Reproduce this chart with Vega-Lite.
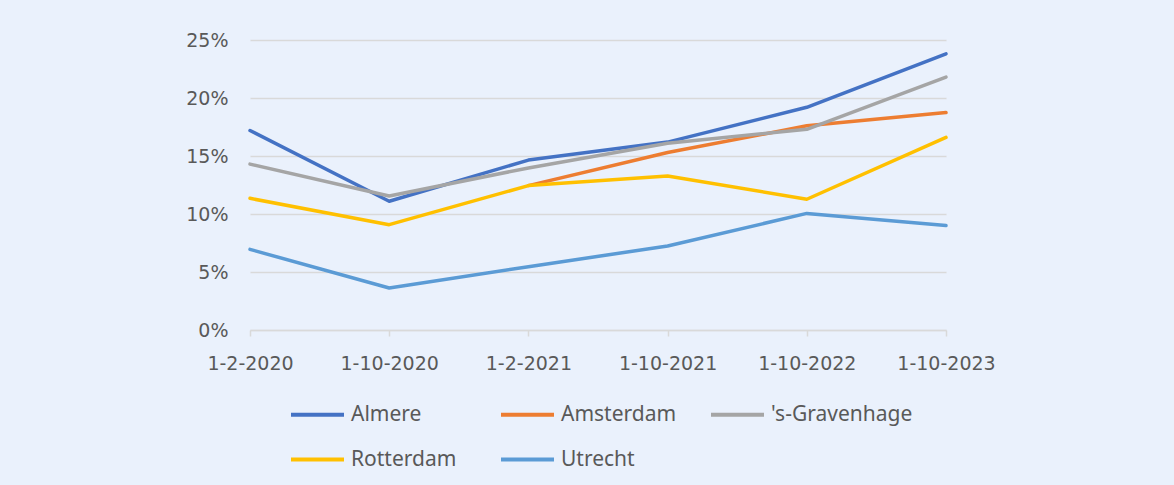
{
  "$schema": "https://vega.github.io/schema/vega-lite/v6.json",
  "width": 696,
  "height": 290,
  "autosize": {"type": "none"},
  "padding": {"left": 250, "top": 40, "right": 228, "bottom": 155},
  "background": "#EAF1FC",
  "config": {
    "view": {"stroke": null},
    "font": "Noto Sans",
    "axis": {"labelColor": "#595959", "labelFont": "DejaVu Sans", "labelFontSize": 19}
  },
  "data": {
    "values": [
      {"datum": "1-2-2020", "stad": "Almere", "waarde": 0.172},
      {"datum": "1-10-2020", "stad": "Almere", "waarde": 0.111},
      {"datum": "1-2-2021", "stad": "Almere", "waarde": 0.1465},
      {"datum": "1-10-2021", "stad": "Almere", "waarde": 0.162},
      {"datum": "1-10-2022", "stad": "Almere", "waarde": 0.192},
      {"datum": "1-10-2023", "stad": "Almere", "waarde": 0.238},
      {"datum": "1-2-2021", "stad": "Amsterdam", "waarde": 0.1245},
      {"datum": "1-10-2021", "stad": "Amsterdam", "waarde": 0.153},
      {"datum": "1-10-2022", "stad": "Amsterdam", "waarde": 0.176},
      {"datum": "1-10-2023", "stad": "Amsterdam", "waarde": 0.1875},
      {"datum": "1-2-2020", "stad": "'s-Gravenhage", "waarde": 0.143},
      {"datum": "1-10-2020", "stad": "'s-Gravenhage", "waarde": 0.1155},
      {"datum": "1-2-2021", "stad": "'s-Gravenhage", "waarde": 0.1397},
      {"datum": "1-10-2021", "stad": "'s-Gravenhage", "waarde": 0.161},
      {"datum": "1-10-2022", "stad": "'s-Gravenhage", "waarde": 0.173},
      {"datum": "1-10-2023", "stad": "'s-Gravenhage", "waarde": 0.218},
      {"datum": "1-2-2020", "stad": "Rotterdam", "waarde": 0.1135},
      {"datum": "1-10-2020", "stad": "Rotterdam", "waarde": 0.0908},
      {"datum": "1-2-2021", "stad": "Rotterdam", "waarde": 0.1245},
      {"datum": "1-10-2021", "stad": "Rotterdam", "waarde": 0.1328},
      {"datum": "1-10-2022", "stad": "Rotterdam", "waarde": 0.1127},
      {"datum": "1-10-2023", "stad": "Rotterdam", "waarde": 0.166},
      {"datum": "1-2-2020", "stad": "Utrecht", "waarde": 0.0695},
      {"datum": "1-10-2020", "stad": "Utrecht", "waarde": 0.0362},
      {"datum": "1-2-2021", "stad": "Utrecht", "waarde": 0.0546},
      {"datum": "1-10-2021", "stad": "Utrecht", "waarde": 0.0724},
      {"datum": "1-10-2022", "stad": "Utrecht", "waarde": 0.1005},
      {"datum": "1-10-2023", "stad": "Utrecht", "waarde": 0.09}
    ]
  },
  "mark": {"type": "line", "strokeWidth": 3.5, "strokeCap": "round", "strokeJoin": "round"},
  "encoding": {
    "x": {
      "field": "datum",
      "type": "ordinal",
      "sort": ["1-2-2020", "1-10-2020", "1-2-2021", "1-10-2021", "1-10-2022", "1-10-2023"],
      "scale": {"type": "point", "padding": 0},
      "axis": {
        "title": null,
        "labelAngle": 0,
        "domainColor": "#D9D9D9",
        "domainWidth": 1.5,
        "tickColor": "#D9D9D9",
        "tickWidth": 1.5,
        "tickSize": 6,
        "labelPadding": 18,
        "grid": false
      }
    },
    "y": {
      "field": "waarde",
      "type": "quantitative",
      "scale": {"domain": [0, 0.25], "nice": false},
      "axis": {
        "title": null,
        "format": ".0%",
        "values": [0, 0.05, 0.1, 0.15, 0.2, 0.25],
        "domain": false,
        "ticks": false,
        "labelPadding": 22,
        "gridColor": "#D9D9D9",
        "gridWidth": 1.5
      }
    },
    "color": {
      "field": "stad",
      "type": "nominal",
      "scale": {
        "domain": ["Almere", "Amsterdam", "'s-Gravenhage", "Rotterdam", "Utrecht"],
        "range": ["#4472C4", "#ED7D31", "#A5A5A5", "#FFC000", "#5B9BD5"]
      },
      "legend": {
        "title": null,
        "orient": "none",
        "legendX": 39,
        "legendY": 346,
        "direction": "horizontal",
        "columns": 3,
        "gridAlign": "all",
        "symbolType": "stroke",
        "symbolSize": 2809,
        "symbolStrokeWidth": 4,
        "labelFontSize": 21,
        "labelColor": "#595959",
        "labelFont": "Noto Sans",
        "labelOffset": 5,
        "columnPadding": 0,
        "rowPadding": 6
      }
    }
  }
}
